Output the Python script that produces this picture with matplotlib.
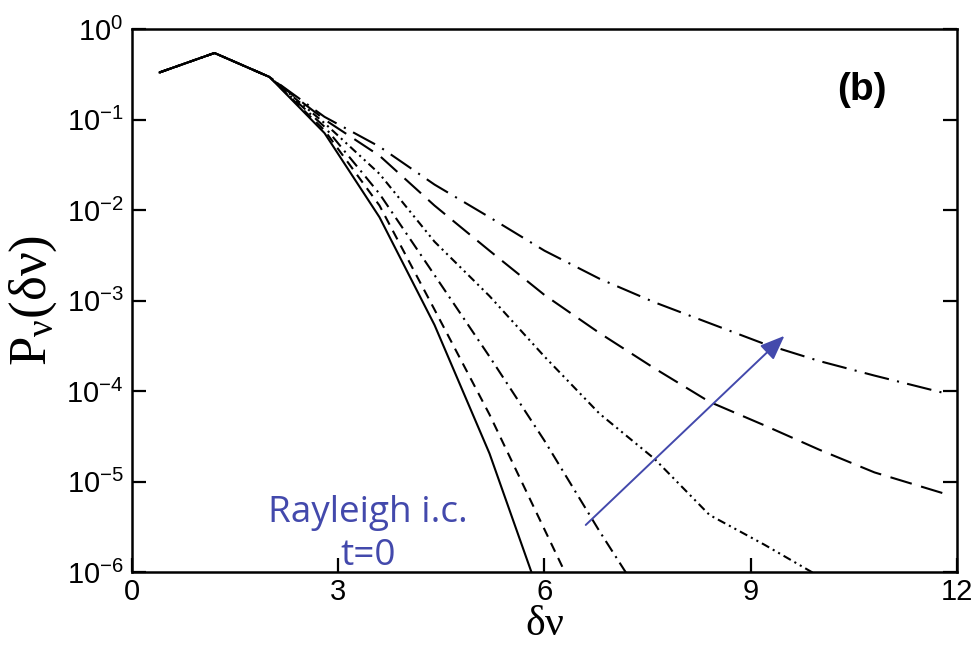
import math
import matplotlib
matplotlib.use("Agg")
import matplotlib.pyplot as plt
from matplotlib.ticker import FixedLocator, FuncFormatter, NullLocator

# Velocity-increment grid and PDFs P_v(dv) at successive times
dv = [0.4, 1.2, 2.0, 2.8, 3.6, 4.4, 5.2, 6.0, 6.8, 7.6, 8.4, 9.2, 10.0, 10.8, 11.8]

p_t0 = [0.331, 0.543, 0.295, 0.0708, 8.32e-3, 5.37e-4, 2.04e-5, 3.89e-7]
p_t1 = [0.331, 0.543, 0.295, 0.0759, 0.0112, 7.94e-4, 5.50e-5, 2.95e-6, 1.58e-7]
p_t2 = [0.331, 0.543, 0.295, 0.0832, 0.0151, 1.91e-3, 2.40e-4, 2.82e-5, 2.82e-6,
        3.16e-7]
p_t3 = [0.331, 0.543, 0.295, 0.0912, 0.0251, 4.47e-3, 1.12e-3, 2.40e-4, 5.62e-5,
        1.78e-5, 4.27e-6, 2.00e-6, 8.91e-7]
p_t4 = [0.331, 0.543, 0.295, 0.100, 0.0398, 0.0112, 3.55e-3, 1.15e-3, 4.37e-4,
        1.78e-4, 7.59e-5, 4.17e-5, 2.24e-5, 1.26e-5, 7.41e-6]
p_t5 = [0.331, 0.543, 0.295, 0.107, 0.0501, 0.0191, 8.32e-3, 3.55e-3, 1.74e-3,
        9.55e-4, 5.62e-4, 3.31e-4, 2.14e-4, 1.48e-4, 9.55e-5]

series = [p_t0, p_t1, p_t2, p_t3, p_t4, p_t5]
styles = [
    "-",
    (0, (7, 5)),
    (0, (9, 4, 1.5, 4)),
    (0, (6, 3, 1.5, 3, 1.5, 3)),
    (0, (16, 7)),
    (0, (18, 6, 1.5, 6)),
]

x_ticks = [0, 3, 6, 9, 12]
y_exponents = [0, -1, -2, -3, -4, -5, -6]

arrow_start = (6.60, 3.31e-6)
arrow_end = (9.49, 4.07e-4)

plt.rcParams["lines.scale_dashes"] = False
plt.rcParams["mathtext.fontset"] = "custom"
plt.rcParams["mathtext.rm"] = "Liberation Serif"
plt.rcParams["mathtext.it"] = "Liberation Serif:italic"
plt.rcParams["mathtext.sf"] = "Liberation Sans"
plt.rcParams["mathtext.default"] = "rm"
plt.rcParams["font.family"] = ["Liberation Sans", "DejaVu Sans"]

W, H = 975, 646
fig = plt.figure(figsize=(W / 100, H / 100), dpi=100)
left, right, top, bottom = 132, 957, 29, 572
ax = fig.add_axes([left / W, 1 - bottom / H, (right - left) / W, (bottom - top) / H])

for p, ls in zip(series, styles):
    ax.plot(dv[:len(p)], p, color="black", lw=1.5, linestyle=ls)

ax.set_yscale("log")
ax.set_xlim(0, 12)
ax.set_ylim(1e-6, 1)

ax.xaxis.set_major_locator(FixedLocator(x_ticks))
ax.xaxis.set_minor_locator(NullLocator())
ax.yaxis.set_major_locator(FixedLocator([10.0 ** e for e in y_exponents]))
ax.yaxis.set_minor_locator(NullLocator())
ax.yaxis.set_major_formatter(
    FuncFormatter(lambda v, pos: r"$\mathsf{10^{%d}}$" % round(math.log10(v))))
ax.xaxis.set_major_formatter(FuncFormatter(lambda v, pos: "%d" % v))

ax.tick_params(axis="both", direction="in", length=10, width=1.6, labelsize=21)
ax.tick_params(axis="x", pad=4, top=False)
ax.tick_params(axis="y", pad=6, right=True)
for s in ax.spines.values():
    s.set_linewidth(1.8)

ax.set_xlabel(r"$\delta\nu$", fontsize=30)
ax.xaxis.set_label_coords(0.5, -0.059)
ax.set_ylabel(r"$P_{\nu}(\delta\nu)$", fontsize=38)
ax.yaxis.set_label_coords(-0.088, 0.5)

ax.text(0.885, 0.888, "(b)", transform=ax.transAxes, ha="center", va="center",
        fontsize=28, fontweight="bold")

blue = "#4349AC"
ax.annotate("", xy=arrow_end, xytext=arrow_start,
            arrowprops=dict(arrowstyle="-|>,head_length=0.75,head_width=0.3",
                            mutation_scale=20, color=blue, lw=1.4,
                            shrinkA=0, shrinkB=0))

fig.text(368 / W, 1 - 522 / H, "Rayleigh i.c.", ha="center", va="baseline",
         fontsize=26.6, color=blue, family="Open Sans")
fig.text(368 / W, 1 - 565 / H, "t=0", ha="center", va="baseline",
         fontsize=26.6, color=blue, family="Open Sans")

fig.savefig("out.png", dpi=100)
